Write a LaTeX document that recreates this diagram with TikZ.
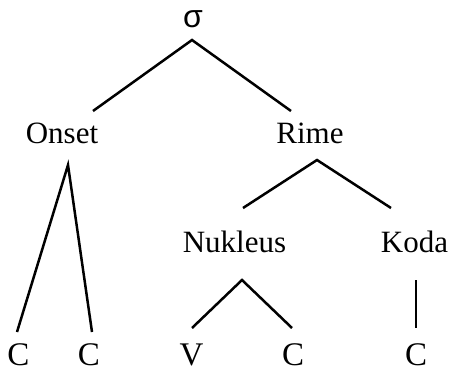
\documentclass[tikz,border=0pt]{standalone}
\usepackage{fontspec}
\setmainfont{Liberation Serif}
\newfontfamily\greekfont{Liberation Sans}
\begin{document}
\begin{tikzpicture}[x=1pt,y=-1pt,
  lbl/.style={anchor=base,inner sep=0pt,font=\fontsize{31}{36}\selectfont},
  leaf/.style={lbl,font=\fontsize{33}{38}\selectfont},
  branch/.style={line width=2.5pt}]
\useasboundingbox (0,0) rectangle (449,369);
% labels
\node[lbl,font=\fontsize{32}{36}\greekfont] (s) at (193,28) {σ};
\node[lbl] (on) at (62,143) {Onset};
\node[lbl] (ri) at (310,143) {Rime};
\node[lbl] (nu) at (234.5,252) {Nukleus};
\node[lbl] (ko) at (414.5,252) {Koda};
\node[leaf] (c1) at (18.5,365) {C};
\node[leaf] (c2) at (89,365) {C};
\node[leaf] (v)  at (191.5,365) {V};
\node[leaf] (c3) at (293,365) {C};
\node[leaf] (c4) at (416,365) {C};
% branches
\draw[branch] ([xshift=31pt,yshift=32pt]on.base) -- ([xshift=-1pt,yshift=-12pt]s.base) -- ([xshift=-19pt,yshift=32pt]ri.base);
\draw[branch] ([xshift=-1.5pt,yshift=33pt]c1.base) -- ([xshift=6pt,yshift=-22pt]on.base) -- ([xshift=3pt,yshift=33pt]c2.base);
\draw[branch] ([xshift=8.5pt,yshift=44pt]nu.base) -- ([xshift=7pt,yshift=-17pt]ri.base) -- ([xshift=-23.5pt,yshift=44pt]ko.base);
\draw[branch] ([xshift=0.5pt,yshift=37pt]v.base) -- ([xshift=7.5pt,yshift=-28pt]nu.base) -- ([xshift=-1pt,yshift=37pt]c3.base);
\draw[branch] ([xshift=1.5pt,yshift=-28pt]ko.base) -- ([yshift=37pt]c4.base);
\end{tikzpicture}
\end{document}
